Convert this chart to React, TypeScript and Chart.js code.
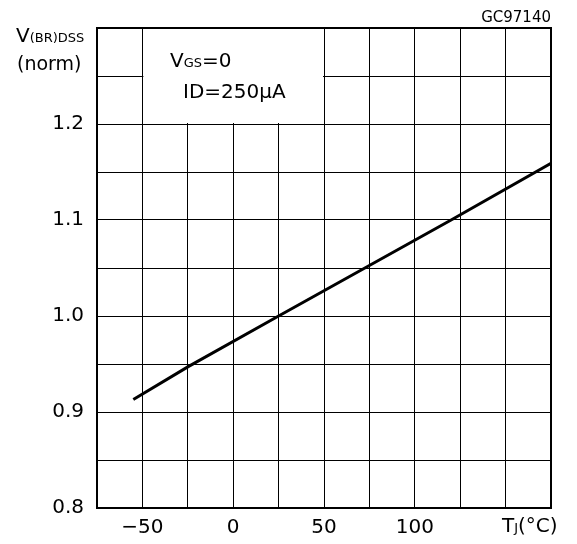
import { useEffect, useRef } from 'react';
import { Chart, registerables, ChartConfiguration, Plugin } from 'chart.js';

Chart.register(...registerables);

// Tj (°C) and normalised V(BR)DSS
const tempC = [-55, -25, 25, 120, 175];
const vbrNorm = [0.913, 0.947, 1.0, 1.1, 1.159];

const xTickValues = [-50, 0, 50, 100];
const xTickLabels = ['\u221250', '0', '50', '100'];
const yTickValues = [0.8, 0.9, 1.0, 1.1, 1.2];
const yTickLabels = ['0.8', '0.9', '1.0', '1.1', '1.2'];

const FONT = '"DejaVu Sans", sans-serif';

type Seg = { t: string; size: number };

function drawSegs(ctx: CanvasRenderingContext2D, segs: Seg[], x: number, y: number) {
  let cx = x;
  for (const s of segs) {
    ctx.font = `${s.size}px ${FONT}`;
    ctx.fillText(s.t, cx, y);
    cx += ctx.measureText(s.t).width;
  }
}

const framePlugin: Plugin<'line'> = {
  id: 'frame',
  beforeDatasetsDraw(chart) {
    const { ctx, chartArea, scales } = chart;
    const x = scales.x;
    const y = scales.y;
    ctx.save();
    // blank area behind the test conditions
    const l = x.getPixelForValue(-50) + 1;
    const r = x.getPixelForValue(50) - 1;
    const t = y.getPixelForValue(1.3) + 1;
    const b = y.getPixelForValue(1.2) - 1;
    ctx.fillStyle = '#fff';
    ctx.fillRect(l, t, r - l, b - t);
    ctx.strokeStyle = '#000';
    ctx.lineWidth = 2;
    ctx.strokeRect(chartArea.left, chartArea.top, chartArea.right - chartArea.left, chartArea.bottom - chartArea.top);
    ctx.restore();
  },
  afterDraw(chart) {
    const { ctx } = chart;
    ctx.save();
    ctx.fillStyle = '#000';
    ctx.textBaseline = 'alphabetic';
    ctx.textAlign = 'left';
    drawSegs(ctx, [{ t: 'V', size: 20 }, { t: '(BR)DSS', size: 13 }], 16, 42);
    drawSegs(ctx, [{ t: '(norm)', size: 19 }], 17, 70);
    drawSegs(ctx, [{ t: 'V', size: 20 }, { t: 'GS', size: 13 }, { t: '=0', size: 20 }], 170, 67);
    drawSegs(ctx, [{ t: 'ID=250\u00b5A', size: 20 }], 183, 98);
    drawSegs(ctx, [{ t: 'T', size: 20 }, { t: 'J', size: 13 }, { t: '(\u00b0C)', size: 20 }], 502, 532);
    ctx.font = `15px ${FONT}`;
    ctx.textAlign = 'right';
    ctx.fillText('GC97140', 551, 22);
    ctx.restore();
  },
};

function pick(values: number[], labels: string[], v: number) {
  const i = values.findIndex(u => Math.abs(u - v) < 1e-6);
  return i >= 0 ? labels[i] : '';
}

export default function App() {
  const canvasRef = useRef<HTMLCanvasElement | null>(null);

  useEffect(() => {
    if (!canvasRef.current) return;
    const config: ChartConfiguration<'line'> = {
      type: 'line',
      data: {
        datasets: [
          {
            data: tempC.map((t, i) => ({ x: t, y: vbrNorm[i] })),
            borderColor: '#000',
            borderWidth: 3,
            pointRadius: 0,
            tension: 0,
          },
        ],
      },
      options: {
        animation: false,
        responsive: true,
        maintainAspectRatio: false,
        layout: { padding: { top: 28, right: 26, left: 0, bottom: 0 } },
        plugins: { legend: { display: false }, tooltip: { enabled: false } },
        scales: {
          x: {
            type: 'linear',
            min: -75,
            max: 175,
            afterFit: s => {
              s.height = 36;
            },
            ticks: {
              stepSize: 25,
              autoSkip: false,
              maxRotation: 0,
              padding: 8,
              color: '#000',
              font: { family: FONT, size: 20 },
              callback: v => pick(xTickValues, xTickLabels, Number(v)),
            },
            grid: { color: '#000', lineWidth: 1, drawTicks: false },
            border: { display: true, color: '#000', width: 2 },
          },
          y: {
            type: 'linear',
            min: 0.8,
            max: 1.3,
            afterFit: s => {
              s.width = 97;
            },
            ticks: {
              stepSize: 0.05,
              autoSkip: false,
              padding: 13,
              color: '#000',
              font: { family: FONT, size: 20 },
              callback: v => pick(yTickValues, yTickLabels, Number(v)),
            },
            grid: { color: '#000', lineWidth: 1, drawTicks: false },
            border: { display: true, color: '#000', width: 2 },
          },
        },
      },
      plugins: [framePlugin],
    };
    const chart = new Chart(canvasRef.current, config);
    return () => chart.destroy();
  }, []);

  return (
    <div style={{ position: 'absolute', left: 0, top: 0, width: 577, height: 544, background: '#fff' }}>
      <canvas ref={canvasRef} />
    </div>
  );
}
